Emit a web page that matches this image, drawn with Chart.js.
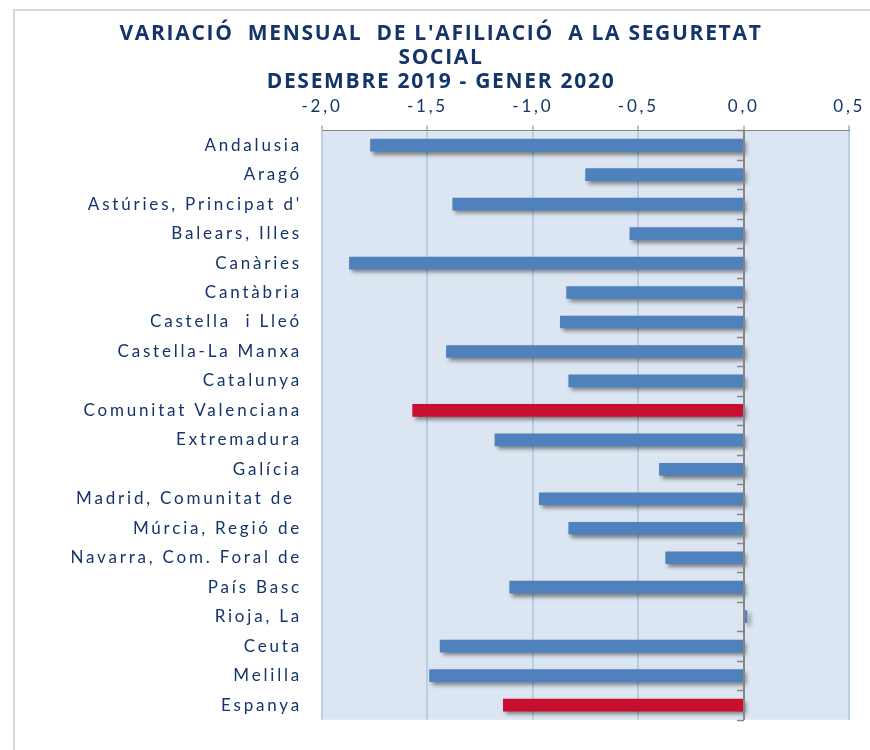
<!DOCTYPE html>
<html lang="ca">
<head>
  <meta charset="UTF-8" />
  <title>Variació mensual de l'afiliació a la Seguretat Social</title>
  <script src="https://cdn.jsdelivr.net/npm/chart.js"></script>
  <style>
    html, body { margin: 0; padding: 0; background: #fff; overflow: hidden; }
    .frame {
      position: absolute; left: 13px; top: 9px; width: 900px; height: 800px;
      border-left: 2px solid #d9d9d9; border-top: 2px solid #d9d9d9;
    }
    .wrap { position: relative; width: 870px; height: 750px; }
  </style>
</head>
<body>
  <div class="frame"></div>
  <div class="wrap"><canvas id="afiliacio"></canvas></div>

  <script>
    // dades llegides del gràfic (variació %, des. 2019 - gen. 2020)
    const regions = [
      'Andalusia', 'Aragó', "Astúries, Principat d'", 'Balears, Illes', 'Canàries',
      'Cantàbria', 'Castella  i Lleó', 'Castella-La Manxa', 'Catalunya', 'Comunitat Valenciana',
      'Extremadura', 'Galícia', 'Madrid, Comunitat de ', 'Múrcia, Regió de', 'Navarra, Com. Foral de',
      'País Basc', 'Rioja, La', 'Ceuta', 'Melilla', 'Espanya'
    ];
    const variacio = [
      -1.77, -0.75, -1.38, -0.54, -1.87,
      -0.84, -0.87, -1.41, -0.83, -1.57,
      -1.18, -0.40, -0.97, -0.83, -0.37,
      -1.11, 0.015, -1.44, -1.49, -1.14
    ];
    const destacades = ['Comunitat Valenciana', 'Espanya'];
    const xTicks = [-2.0, -1.5, -1.0, -0.5, 0.0, 0.5];

    const navy = '#14346a';
    const blue = '#4f81bd';
    const red = '#c8102e';

    // fons de l'àrea del gràfic
    const plotBg = {
      id: 'plotBg',
      beforeDraw(chart) {
        const { ctx, chartArea: a } = chart;
        ctx.save();
        ctx.fillStyle = '#dce6f2';
        ctx.fillRect(a.left, a.top, a.right - a.left, a.bottom - a.top);
        ctx.restore();
      }
    };

    // ombra de les barres
    const barShadow = {
      id: 'barShadow',
      beforeDatasetsDraw(chart) {
        const ctx = chart.ctx;
        ctx.save();
        ctx.shadowColor = 'rgba(0,0,0,0.45)';
        ctx.shadowBlur = 4;
        ctx.shadowOffsetX = 3;
        ctx.shadowOffsetY = 3;
      },
      afterDatasetsDraw(chart) {
        chart.ctx.restore();
      }
    };

    // eix vertical en el zero amb marques entre categories
    const zeroAxis = {
      id: 'zeroAxis',
      afterDatasetsDraw(chart) {
        const { ctx, chartArea: a, scales: { x, y } } = chart;
        const x0 = Math.round(x.getPixelForValue(0));
        const step = y.getPixelForValue(1) - y.getPixelForValue(0);
        ctx.save();
        ctx.strokeStyle = '#868686';
        ctx.lineWidth = 2;
        ctx.beginPath();
        ctx.moveTo(x0, a.top);
        ctx.lineTo(x0, a.bottom);
        ctx.stroke();
        ctx.lineWidth = 1.5;
        for (let i = 0; i <= regions.length; i++) {
          const yy = Math.round(y.getPixelForValue(i) - step / 2) + 0.5;
          ctx.beginPath();
          ctx.moveTo(x0 - 7, yy);
          ctx.lineTo(x0, yy);
          ctx.stroke();
        }
        ctx.restore();
      }
    };

    // espaiat de lletres com a l'original
    const spacing = { x: '2.8px', y: '2.8px', title: '1.7px' };
    function spaced(obj, method, sp) {
      if (!obj || obj._spaced) return;
      const orig = obj[method];
      obj[method] = function (...args) {
        const c = this.ctx;
        c.save();
        c.letterSpacing = sp;
        orig.apply(this, args);
        c.restore();
      };
      obj._spaced = true;
    }
    const spacedLabels = {
      id: 'spacedLabels',
      afterLayout(chart) {
        spaced(chart.scales.x, 'drawLabels', spacing.x);
        spaced(chart.scales.y, 'drawLabels', spacing.y);
        spaced(chart.titleBlock, 'draw', spacing.title);
      }
    };

    new Chart(document.getElementById('afiliacio'), {
      type: 'bar',
      data: {
        labels: regions,
        datasets: [{
          data: variacio,
          backgroundColor: regions.map(r => destacades.includes(r) ? red : blue),
          borderWidth: 0,
          barThickness: 12
        }]
      },
      options: {
        indexAxis: 'y',
        responsive: true,
        maintainAspectRatio: false,
        animation: false,
        layout: { padding: { top: 10, right: 18, bottom: 24, left: 30 } },
        plugins: {
          legend: { display: false },
          tooltip: { enabled: false },
          title: {
            display: true,
            text: ["VARIACIÓ  MENSUAL  DE L'AFILIACIÓ  A LA SEGURETAT", 'SOCIAL', 'DESEMBRE 2019 - GENER 2020'],
            color: navy,
            font: { family: 'Open Sans', size: 21, weight: 'bold', lineHeight: 1.15 },
            padding: { top: 12, bottom: 0 }
          }
        },
        scales: {
          x: {
            position: 'top',
            min: -2,
            max: 0.5,
            afterBuildTicks: s => { s.ticks = xTicks.map(v => ({ value: v })); },
            afterFit: s => { s.height = 36; },
            ticks: {
              color: navy,
              font: { family: 'Lato', size: 17 },
              padding: 9,
              callback: v => v.toFixed(1).replace('.', ',')
            },
            grid: { color: '#b9cde5', lineWidth: 2, tickColor: '#868686', tickLength: 5, tickWidth: 1 },
            border: { color: '#868686', width: 1 }
          },
          y: {
            afterFit: s => { s.width = 292; },
            ticks: {
              color: navy,
              font: { family: 'Lato', size: 17 },
              padding: 20
            },
            grid: { display: false, drawTicks: false },
            border: { display: false }
          }
        }
      },
      plugins: [plotBg, barShadow, zeroAxis, spacedLabels]
    });
  </script>
</body>
</html>
